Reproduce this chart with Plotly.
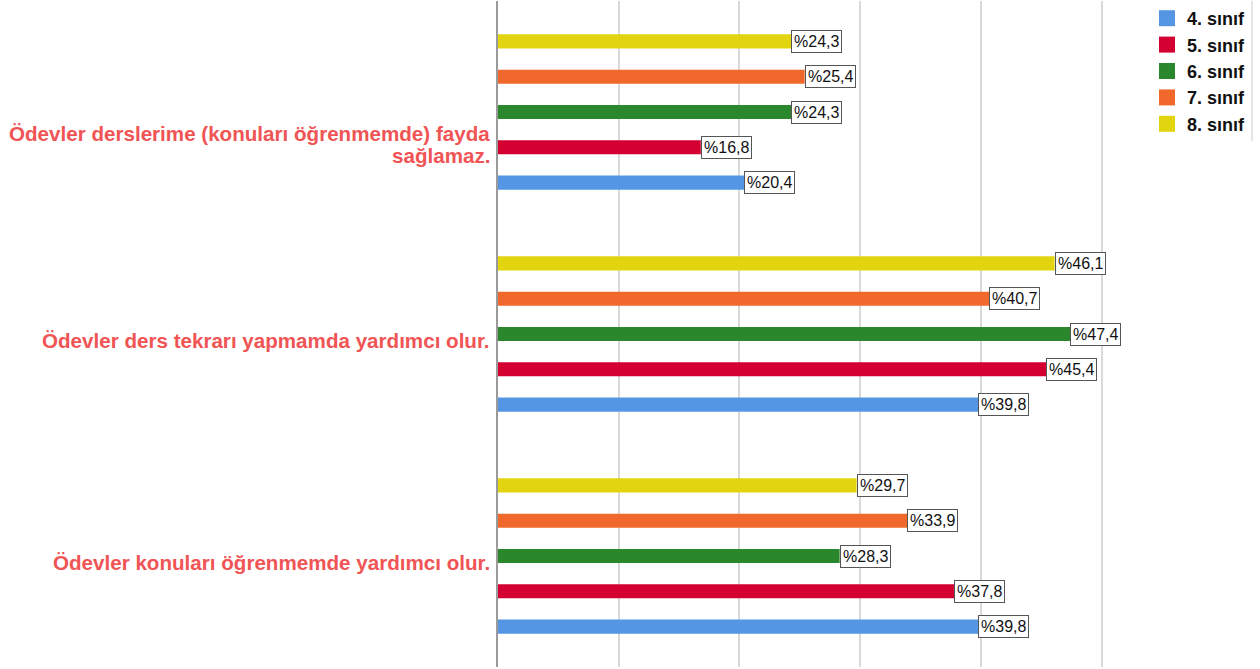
import plotly.graph_objects as go

# Statements, listed bottom-to-top as they sit on the y axis
statements = [
    "Ödevler konuları öğrenmemde yardımcı olur.",
    "Ödevler ders tekrarı yapmamda yardımcı olur.",
    "Ödevler derslerime (konuları öğrenmemde) fayda sağlamaz.",
]
# Label lines drawn beside each statement group
statement_lines = [
    ["Ödevler konuları öğrenmemde yardımcı olur."],
    ["Ödevler ders tekrarı yapmamda yardımcı olur."],
    ["Ödevler derslerime (konuları öğrenmemde) fayda", "sağlamaz."],
]

grades = ["4. sınıf", "5. sınıf", "6. sınıf", "7. sınıf", "8. sınıf"]

# Percentages per grade, in the same order as `statements`
values_4 = [39.8, 39.8, 20.4]
values_5 = [37.8, 45.4, 16.8]
values_6 = [28.3, 47.4, 24.3]
values_7 = [33.9, 40.7, 25.4]
values_8 = [29.7, 46.1, 24.3]
series = [values_4, values_5, values_6, values_7, values_8]

colors = ["#5596E4", "#D50032", "#2B872B", "#F0682C", "#E2D510"]

BARGAP = 0.205
GROUPGAP = 0.6
FONT = "Liberation Sans, Arial, sans-serif"

fig = go.Figure()
for name, vals, col in zip(grades, series, colors):
    fig.add_trace(go.Bar(
        y=statements, x=vals, name=name, orientation="h",
        marker=dict(color=col, line=dict(width=0)),
        hoverinfo="x+name", showlegend=False,
    ))

# Legend entries with larger square swatches
for name, col in zip(grades, colors):
    fig.add_trace(go.Scatter(
        x=[None], y=[None], mode="markers", name=name,
        marker=dict(symbol="square", size=16, color=col),
        showlegend=True,
    ))

annotations = []

# Boxed value labels at the end of every bar
n = len(grades)
slot = (1 - BARGAP) / n
for gi, vals in enumerate(series):
    for ci, v in enumerate(vals):
        annotations.append(dict(
            x=v, y=ci + (gi - (n - 1) / 2) * slot,
            xref="x", yref="y",
            text=f"%{v:.1f}".replace(".", ","),
            showarrow=False, xanchor="left", yanchor="middle",
            font=dict(family=FONT, size=16, color="#111111"),
            bgcolor="white", bordercolor="#555555", borderwidth=1, borderpad=2,
        ))

# Statement labels to the left of the axis
for ci, lines in enumerate(statement_lines):
    first_shift = -6 if len(lines) == 1 else -21
    for li, line in enumerate(lines):
        annotations.append(dict(
            x=0, y=ci, xref="paper", yref="y",
            text=f"<b>{line}</b>", showarrow=False,
            xanchor="right", yanchor="middle", xshift=-6,
            yshift=first_shift - 22 * li,
            font=dict(family=FONT, size=20.6, color="#F05454"),
        ))

fig.update_layout(
    width=1260, height=669,
    margin=dict(l=498, r=98, t=1, b=2, autoexpand=False),
    paper_bgcolor="white", plot_bgcolor="white",
    barmode="group", bargap=BARGAP, bargroupgap=GROUPGAP,
    annotations=annotations,
    showlegend=True,
    legend=dict(
        xref="container", yref="container",
        x=1147 / 1260, y=1.0, xanchor="left", yanchor="top",
        traceorder="normal",
        font=dict(family=FONT, size=18, color="#111111", weight="bold"),
        bgcolor="rgba(0,0,0,0)", itemwidth=30, tracegroupgap=0,
    ),
    shapes=[dict(
        type="line", xref="paper", yref="paper", x0=1.1355, x1=1.1355, y0=0.79, y1=1.0,
        line=dict(color="#CCCCCC", width=1),
    )],
    xaxis=dict(
        range=[0, 55], dtick=10, showgrid=True, gridcolor="#D9D9D9", gridwidth=1.5,
        showticklabels=False, zeroline=False, showline=False, ticks="",
    ),
    yaxis=dict(
        type="category", categoryorder="array", categoryarray=statements,
        range=[-0.5, 2.5], showticklabels=False, ticks="",
        showline=True, linecolor="#9A9A9A", linewidth=2,
        showgrid=False,
    ),
)

fig.write_html("out.html")
